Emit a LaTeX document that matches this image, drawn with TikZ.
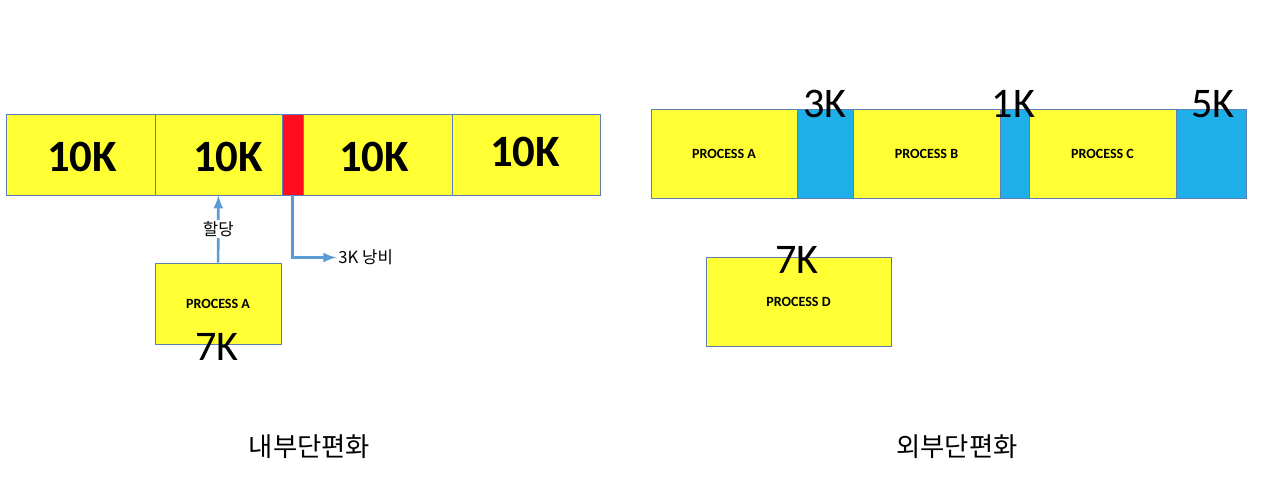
\documentclass[tikz,border=0pt]{standalone}
\usepackage{fontspec}
\usepackage{tikz}
\setmainfont{Carlito}
\newfontfamily\kor{Noto Sans CJK KR}

\definecolor{memyellow}{HTML}{FFFF33}
\definecolor{memblue}{HTML}{1FB0EA}
\definecolor{memred}{HTML}{FF0D1F}
\definecolor{memline}{HTML}{5A7FB8}
\definecolor{arrowblue}{HTML}{5B9BD5}

\tikzset{
	cell/.style={draw=memline, line width=0.5pt, fill=memyellow, inner sep=0pt},
	gap/.style={draw=memline, line width=0.5pt, fill=memblue, inner sep=0pt},
	big/.style={font=\fontsize{25.5}{25}\selectfont\bfseries},
	size/.style={font=\fontsize{24}{24}\selectfont, anchor=base, inner sep=0pt},
	proc/.style={font=\fontsize{8}{8}\selectfont\bfseries},
	note/.style={font=\kor\fontsize{9.5}{10}\selectfont},
	arr/.style={draw=arrowblue, line width=1.5pt, -latex}
}

\begin{document}
\begin{tikzpicture}
		\useasboundingbox (0,0) rectangle (25.26,-9.8);
		
		% 내부단편화
		\node[cell, minimum width=2.98cm, minimum height=1.62cm] (c1) at (1.61,-3.09) {};
		\node[cell, minimum width=2.54cm, minimum height=1.62cm] (c2) at (4.37,-3.09) {};
		\node[draw=memline, line width=0.5pt, fill=memred, inner sep=0pt, minimum width=0.42cm, minimum height=1.62cm] (waste) at (5.85,-3.09) {};
		\node[cell, minimum width=2.98cm, minimum height=1.62cm] (c3) at (7.55,-3.09) {};
		\node[cell, minimum width=2.96cm, minimum height=1.62cm] (c4) at (10.52,-3.09) {};
		
		\node[big] at (1.64,-3.14) {10K};
		\node[big] at (4.56,-3.14) {10K};
		\node[big] at (7.48,-3.14) {10K};
		\node[big] at (10.50,-3.04) {10K};
		
		\node[cell, minimum width=2.52cm, minimum height=1.62cm] (pa) at (4.36,-6.07) {};
		\node[proc] at (4.36,-6.07) {PROCESS A};
		\node[size] at (4.34,-7.2) {7K};
		
		\draw[arr] (pa) -- node[note, fill=white, inner sep=1pt] {할당} (c2);
		\node[note, anchor=west, inner sep=0pt] (lost) at (6.76,-5.15) {3K 낭비};
		\draw[arr] (waste) |- ([xshift=-1pt]lost.west);
		
		\node[font=\kor\fontsize{15}{15}\selectfont] (inner) at (6.19,-8.93) {내부단편화};
		
		% 외부단편화
		\node[cell, minimum width=2.92cm, minimum height=1.78cm] (ra) at (14.48,-3.07) {};
		\node[gap, minimum width=1.12cm, minimum height=1.78cm] (g1) at (16.50,-3.07) {};
		\node[cell, minimum width=2.94cm, minimum height=1.78cm] (rb) at (18.53,-3.07) {};
		\node[gap, minimum width=0.58cm, minimum height=1.78cm] (g2) at (20.29,-3.07) {};
		\node[cell, minimum width=2.94cm, minimum height=1.78cm] (rc) at (22.05,-3.07) {};
		\node[gap, minimum width=1.40cm, minimum height=1.78cm] (g3) at (24.22,-3.07) {};
		
		\node[proc] at (ra) {PROCESS A};
		\node[proc] at (rb) {PROCESS B};
		\node[proc] at (rc) {PROCESS C};
		
		\node[size] at ([yshift=-0.18cm]g1.north) {3K};
		\node[size] at ([xshift=-0.02cm,yshift=-0.18cm]g2.north) {1K};
		\node[size] at ([xshift=0.04cm,yshift=-0.18cm]g3.north) {5K};
		
		\node[cell, minimum width=3.70cm, minimum height=1.78cm] (rd) at (15.97,-6.03) {};
		\node[proc] at (rd) {PROCESS D};
		\node[size] at (15.94,-5.46) {7K};
		
		\node[font=\kor\fontsize{15}{15}\selectfont] (outer) at (19.14,-8.93) {외부단편화};
	\end{tikzpicture}
\end{document}
